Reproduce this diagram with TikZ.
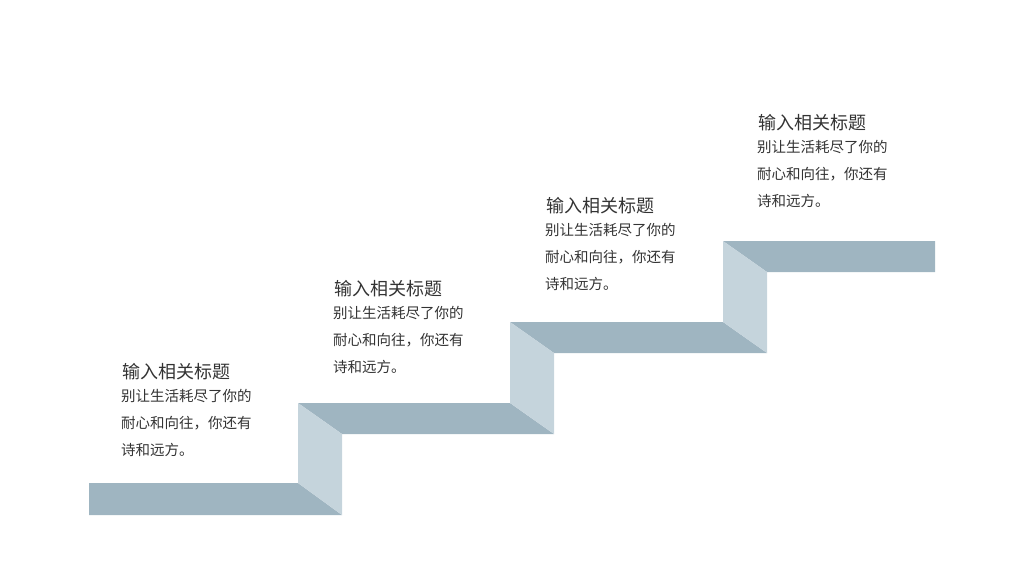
\documentclass[tikz,border=0pt]{standalone}
\usepackage{fontspec}
\setmainfont{Noto Sans CJK SC}
\usetikzlibrary{positioning}
\definecolor{tread}{HTML}{9FB5C1}
\definecolor{riser}{HTML}{C5D4DC}
\definecolor{txt}{HTML}{333333}
\begin{document}
\begin{tikzpicture}[x=1pt,y=-1pt,
  title/.style={anchor=west, inner sep=0pt, font=\fontsize{18}{18}\selectfont, text=txt},
  body/.style={anchor=north west, inner sep=0pt, align=left, font=\fontsize{14.5}{27}\selectfont, text=txt}]
\useasboundingbox (0,0) rectangle (1024,576);
% treads
\fill[tread] (89,483) -- (298,483) -- (342,515) -- (89,515) -- cycle;
\fill[tread] (298,403) -- (510,403) -- (554,434) -- (342,434) -- cycle;
\fill[tread] (510,322) -- (723,322) -- (767,353) -- (554,353) -- cycle;
\fill[tread] (723,241) -- (935,241) -- (935,272) -- (767,272) -- cycle;
% risers
\fill[riser] (298,403) -- (342,434) -- (342,515) -- (298,483) -- cycle;
\fill[riser] (510,322) -- (554,353) -- (554,434) -- (510,403) -- cycle;
\fill[riser] (723,241) -- (767,272) -- (767,353) -- (723,322) -- cycle;
% texts
\foreach \i/\x/\y in {1/122/372, 2/334/289, 3/546/206, 4/758/123} {
  \node[title] (title\i) at (\x,\y) {输入相关标题};
  \node[body, below=9pt of title\i.south west, anchor=north west, xshift=-1pt] (body\i)
    {别让生活耗尽了你的\\耐心和向往，你还有\\诗和远方。};
}
\end{tikzpicture}
\end{document}
